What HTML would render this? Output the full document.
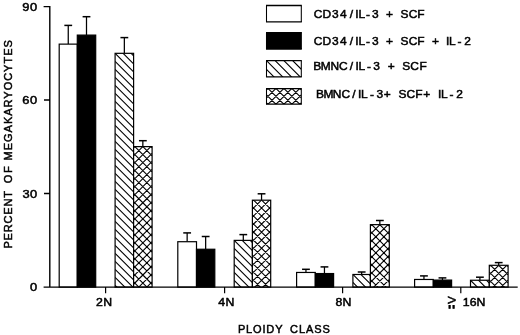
<!DOCTYPE html><html><head><meta charset="utf-8"><title>Ploidy class chart</title>
<style>html,body{margin:0;padding:0;background:#fff}svg{display:block}text{font-family:"Liberation Sans",sans-serif;font-size:11.6px;fill:#000;stroke:#000;stroke-width:.5px;white-space:pre}</style></head><body>
<svg width="520" height="335" viewBox="0 0 520 335">
<rect width="520" height="335" fill="#fff"/>
<path d="M68.25 44.13V25.4" stroke="#000" stroke-width="1.25" fill="none"/><path d="M64.35 25.4H72.15" stroke="#000" stroke-width="1.5" fill="none"/>
<path d="M86.5 35.1V16.7" stroke="#000" stroke-width="1.25" fill="none"/><path d="M82.60 16.7H90.40" stroke="#000" stroke-width="1.5" fill="none"/>
<path d="M124.35 53.32V37.6" stroke="#000" stroke-width="1.25" fill="none"/><path d="M120.45 37.6H128.25" stroke="#000" stroke-width="1.5" fill="none"/>
<path d="M142.85 146.61V140.7" stroke="#000" stroke-width="1.25" fill="none"/><path d="M138.95 140.7H146.75" stroke="#000" stroke-width="1.5" fill="none"/>
<path d="M187.15 241.71V232.9" stroke="#000" stroke-width="1.25" fill="none"/><path d="M183.25 232.9H191.05" stroke="#000" stroke-width="1.5" fill="none"/>
<path d="M205.65 249.25V236.5" stroke="#000" stroke-width="1.25" fill="none"/><path d="M201.75 236.5H209.55" stroke="#000" stroke-width="1.5" fill="none"/>
<path d="M243.3 240.38V234.6" stroke="#000" stroke-width="1.25" fill="none"/><path d="M239.40 234.6H247.20" stroke="#000" stroke-width="1.5" fill="none"/>
<path d="M261.55 200.19V193.8" stroke="#000" stroke-width="1.25" fill="none"/><path d="M257.65 193.8H265.45" stroke="#000" stroke-width="1.5" fill="none"/>
<path d="M305.95 272.46V269.3" stroke="#000" stroke-width="1.25" fill="none"/><path d="M302.05 269.3H309.85" stroke="#000" stroke-width="1.5" fill="none"/>
<path d="M324.45 273.55V266.9" stroke="#000" stroke-width="1.25" fill="none"/><path d="M320.55 266.9H328.35" stroke="#000" stroke-width="1.5" fill="none"/>
<path d="M361.65 274.48V272.0" stroke="#000" stroke-width="1.25" fill="none"/><path d="M357.75 272.0H365.55" stroke="#000" stroke-width="1.5" fill="none"/>
<path d="M379.85 224.64V220.5" stroke="#000" stroke-width="1.25" fill="none"/><path d="M375.95 220.5H383.75" stroke="#000" stroke-width="1.5" fill="none"/>
<path d="M423.95 279.47V275.9" stroke="#000" stroke-width="1.25" fill="none"/><path d="M420.05 275.9H427.85" stroke="#000" stroke-width="1.5" fill="none"/>
<path d="M442.45 280.09V277.9" stroke="#000" stroke-width="1.25" fill="none"/><path d="M438.55 277.9H446.35" stroke="#000" stroke-width="1.5" fill="none"/>
<path d="M479.9 280.25V277.2" stroke="#000" stroke-width="1.25" fill="none"/><path d="M476.00 277.2H483.80" stroke="#000" stroke-width="1.5" fill="none"/>
<path d="M498.7 265.3V262.6" stroke="#000" stroke-width="1.25" fill="none"/><path d="M494.80 262.6H502.60" stroke="#000" stroke-width="1.5" fill="none"/>
<rect x="59.20" y="44.13" width="18.10" height="242.97" fill="#fff"/>
<rect x="59.20" y="44.13" width="18.10" height="242.97" fill="none" stroke="#000" stroke-width="1.2"/>
<rect x="77.30" y="35.10" width="18.40" height="252.00" fill="#000"/>
<rect x="77.30" y="35.10" width="18.40" height="252.00" fill="none" stroke="#000" stroke-width="1.2"/>
<rect x="115.10" y="53.32" width="18.50" height="233.78" fill="#fff"/>
<clipPath id="c3"><rect x="115.10" y="53.32" width="18.50" height="233.78"/></clipPath>
<path d="M115.10 21.32L133.60 39.82M115.10 29.32L133.60 47.82M115.10 37.32L133.60 55.82M115.10 45.32L133.60 63.82M115.10 53.32L133.60 71.82M115.10 61.32L133.60 79.82M115.10 69.32L133.60 87.82M115.10 77.32L133.60 95.82M115.10 85.32L133.60 103.82M115.10 93.32L133.60 111.82M115.10 101.32L133.60 119.82M115.10 109.32L133.60 127.82M115.10 117.32L133.60 135.82M115.10 125.32L133.60 143.82M115.10 133.32L133.60 151.82M115.10 141.32L133.60 159.82M115.10 149.32L133.60 167.82M115.10 157.32L133.60 175.82M115.10 165.32L133.60 183.82M115.10 173.32L133.60 191.82M115.10 181.32L133.60 199.82M115.10 189.32L133.60 207.82M115.10 197.32L133.60 215.82M115.10 205.32L133.60 223.82M115.10 213.32L133.60 231.82M115.10 221.32L133.60 239.82M115.10 229.32L133.60 247.82M115.10 237.32L133.60 255.82M115.10 245.32L133.60 263.82M115.10 253.32L133.60 271.82M115.10 261.32L133.60 279.82M115.10 269.32L133.60 287.82M115.10 277.32L133.60 295.82M115.10 285.32L133.60 303.82M115.10 293.32L133.60 311.82M115.10 301.32L133.60 319.82" stroke="#000" stroke-width="1.1" fill="none" clip-path="url(#c3)"/>
<rect x="115.10" y="53.32" width="18.50" height="233.78" fill="none" stroke="#000" stroke-width="1.2"/>
<rect x="133.60" y="146.61" width="18.50" height="140.49" fill="#fff"/>
<clipPath id="c4"><rect x="133.60" y="146.61" width="18.50" height="140.49"/></clipPath>
<path d="M133.60 113.19L152.10 131.69M133.60 121.22L152.10 139.72M133.60 129.25L152.10 147.75M133.60 137.28L152.10 155.78M133.60 145.31L152.10 163.81M133.60 153.34L152.10 171.84M133.60 161.37L152.10 179.87M133.60 169.40L152.10 187.90M133.60 177.43L152.10 195.93M133.60 185.46L152.10 203.96M133.60 193.49L152.10 211.99M133.60 201.52L152.10 220.02M133.60 209.55L152.10 228.05M133.60 217.58L152.10 236.08M133.60 225.61L152.10 244.11M133.60 233.64L152.10 252.14M133.60 241.67L152.10 260.17M133.60 249.70L152.10 268.20M133.60 257.73L152.10 276.23M133.60 265.76L152.10 284.26M133.60 273.79L152.10 292.29M133.60 281.82L152.10 300.32M133.60 289.85L152.10 308.35M133.60 297.88L152.10 316.38M152.10 113.19L133.60 131.69M152.10 121.22L133.60 139.72M152.10 129.25L133.60 147.75M152.10 137.28L133.60 155.78M152.10 145.31L133.60 163.81M152.10 153.34L133.60 171.84M152.10 161.37L133.60 179.87M152.10 169.40L133.60 187.90M152.10 177.43L133.60 195.93M152.10 185.46L133.60 203.96M152.10 193.49L133.60 211.99M152.10 201.52L133.60 220.02M152.10 209.55L133.60 228.05M152.10 217.58L133.60 236.08M152.10 225.61L133.60 244.11M152.10 233.64L133.60 252.14M152.10 241.67L133.60 260.17M152.10 249.70L133.60 268.20M152.10 257.73L133.60 276.23M152.10 265.76L133.60 284.26M152.10 273.79L133.60 292.29M152.10 281.82L133.60 300.32M152.10 289.85L133.60 308.35M152.10 297.88L133.60 316.38" stroke="#000" stroke-width="1.1" fill="none" clip-path="url(#c4)"/>
<rect x="133.60" y="146.61" width="18.50" height="140.49" fill="none" stroke="#000" stroke-width="1.2"/>
<rect x="177.80" y="241.71" width="18.70" height="45.39" fill="#fff"/>
<rect x="177.80" y="241.71" width="18.70" height="45.39" fill="none" stroke="#000" stroke-width="1.2"/>
<rect x="196.50" y="249.25" width="18.30" height="37.85" fill="#000"/>
<rect x="196.50" y="249.25" width="18.30" height="37.85" fill="none" stroke="#000" stroke-width="1.2"/>
<rect x="234.20" y="240.38" width="18.20" height="46.72" fill="#fff"/>
<clipPath id="c7"><rect x="234.20" y="240.38" width="18.20" height="46.72"/></clipPath>
<path d="M234.20 208.38L252.40 226.58M234.20 216.38L252.40 234.58M234.20 224.38L252.40 242.58M234.20 232.38L252.40 250.58M234.20 240.38L252.40 258.58M234.20 248.38L252.40 266.58M234.20 256.38L252.40 274.58M234.20 264.38L252.40 282.58M234.20 272.38L252.40 290.58M234.20 280.38L252.40 298.58M234.20 288.38L252.40 306.58M234.20 296.38L252.40 314.58" stroke="#000" stroke-width="1.1" fill="none" clip-path="url(#c7)"/>
<rect x="234.20" y="240.38" width="18.20" height="46.72" fill="none" stroke="#000" stroke-width="1.2"/>
<rect x="252.40" y="200.19" width="18.30" height="86.91" fill="#fff"/>
<clipPath id="c8"><rect x="252.40" y="200.19" width="18.30" height="86.91"/></clipPath>
<path d="M252.40 166.77L270.70 185.07M252.40 174.80L270.70 193.10M252.40 182.83L270.70 201.13M252.40 190.86L270.70 209.16M252.40 198.89L270.70 217.19M252.40 206.92L270.70 225.22M252.40 214.95L270.70 233.25M252.40 222.98L270.70 241.28M252.40 231.01L270.70 249.31M252.40 239.04L270.70 257.34M252.40 247.07L270.70 265.37M252.40 255.10L270.70 273.40M252.40 263.13L270.70 281.43M252.40 271.16L270.70 289.46M252.40 279.19L270.70 297.49M252.40 287.22L270.70 305.52M252.40 295.25L270.70 313.55M270.70 166.77L252.40 185.07M270.70 174.80L252.40 193.10M270.70 182.83L252.40 201.13M270.70 190.86L252.40 209.16M270.70 198.89L252.40 217.19M270.70 206.92L252.40 225.22M270.70 214.95L252.40 233.25M270.70 222.98L252.40 241.28M270.70 231.01L252.40 249.31M270.70 239.04L252.40 257.34M270.70 247.07L252.40 265.37M270.70 255.10L252.40 273.40M270.70 263.13L252.40 281.43M270.70 271.16L252.40 289.46M270.70 279.19L252.40 297.49M270.70 287.22L252.40 305.52M270.70 295.25L252.40 313.55" stroke="#000" stroke-width="1.1" fill="none" clip-path="url(#c8)"/>
<rect x="252.40" y="200.19" width="18.30" height="86.91" fill="none" stroke="#000" stroke-width="1.2"/>
<rect x="296.60" y="272.46" width="18.70" height="14.64" fill="#fff"/>
<rect x="296.60" y="272.46" width="18.70" height="14.64" fill="none" stroke="#000" stroke-width="1.2"/>
<rect x="315.30" y="273.55" width="18.30" height="13.55" fill="#000"/>
<rect x="315.30" y="273.55" width="18.30" height="13.55" fill="none" stroke="#000" stroke-width="1.2"/>
<rect x="352.90" y="274.48" width="17.50" height="12.62" fill="#fff"/>
<clipPath id="c11"><rect x="352.90" y="274.48" width="17.50" height="12.62"/></clipPath>
<path d="M352.90 242.48L370.40 259.98M352.90 250.48L370.40 267.98M352.90 258.48L370.40 275.98M352.90 266.48L370.40 283.98M352.90 274.48L370.40 291.98M352.90 282.48L370.40 299.98M352.90 290.48L370.40 307.98M352.90 298.48L370.40 315.98" stroke="#000" stroke-width="1.1" fill="none" clip-path="url(#c11)"/>
<rect x="352.90" y="274.48" width="17.50" height="12.62" fill="none" stroke="#000" stroke-width="1.2"/>
<rect x="370.40" y="224.64" width="18.90" height="62.46" fill="#fff"/>
<clipPath id="c12"><rect x="370.40" y="224.64" width="18.90" height="62.46"/></clipPath>
<path d="M370.40 191.22L389.30 210.12M370.40 199.25L389.30 218.15M370.40 207.28L389.30 226.18M370.40 215.31L389.30 234.21M370.40 223.34L389.30 242.24M370.40 231.37L389.30 250.27M370.40 239.40L389.30 258.30M370.40 247.43L389.30 266.33M370.40 255.46L389.30 274.36M370.40 263.49L389.30 282.39M370.40 271.52L389.30 290.42M370.40 279.55L389.30 298.45M370.40 287.58L389.30 306.48M370.40 295.61L389.30 314.51M389.30 191.22L370.40 210.12M389.30 199.25L370.40 218.15M389.30 207.28L370.40 226.18M389.30 215.31L370.40 234.21M389.30 223.34L370.40 242.24M389.30 231.37L370.40 250.27M389.30 239.40L370.40 258.30M389.30 247.43L370.40 266.33M389.30 255.46L370.40 274.36M389.30 263.49L370.40 282.39M389.30 271.52L370.40 290.42M389.30 279.55L370.40 298.45M389.30 287.58L370.40 306.48M389.30 295.61L370.40 314.51" stroke="#000" stroke-width="1.1" fill="none" clip-path="url(#c12)"/>
<rect x="370.40" y="224.64" width="18.90" height="62.46" fill="none" stroke="#000" stroke-width="1.2"/>
<rect x="414.60" y="279.47" width="18.70" height="7.63" fill="#fff"/>
<rect x="414.60" y="279.47" width="18.70" height="7.63" fill="none" stroke="#000" stroke-width="1.2"/>
<rect x="433.30" y="280.09" width="18.30" height="7.01" fill="#000"/>
<rect x="433.30" y="280.09" width="18.30" height="7.01" fill="none" stroke="#000" stroke-width="1.2"/>
<rect x="470.50" y="280.25" width="18.80" height="6.85" fill="#fff"/>
<clipPath id="c15"><rect x="470.50" y="280.25" width="18.80" height="6.85"/></clipPath>
<path d="M470.50 248.25L489.30 267.05M470.50 256.25L489.30 275.05M470.50 264.25L489.30 283.05M470.50 272.25L489.30 291.05M470.50 280.25L489.30 299.05M470.50 288.25L489.30 307.05M470.50 296.25L489.30 315.05" stroke="#000" stroke-width="1.1" fill="none" clip-path="url(#c15)"/>
<rect x="470.50" y="280.25" width="18.80" height="6.85" fill="none" stroke="#000" stroke-width="1.2"/>
<rect x="489.30" y="265.30" width="18.80" height="21.81" fill="#fff"/>
<clipPath id="c16"><rect x="489.30" y="265.30" width="18.80" height="21.81"/></clipPath>
<path d="M489.30 231.88L508.10 250.67M489.30 239.91L508.10 258.70M489.30 247.94L508.10 266.73M489.30 255.97L508.10 274.76M489.30 264.00L508.10 282.79M489.30 272.02L508.10 290.82M489.30 280.06L508.10 298.85M489.30 288.08L508.10 306.88M489.30 296.12L508.10 314.91M508.10 231.88L489.30 250.67M508.10 239.91L489.30 258.70M508.10 247.94L489.30 266.73M508.10 255.97L489.30 274.76M508.10 264.00L489.30 282.79M508.10 272.02L489.30 290.82M508.10 280.06L489.30 298.85M508.10 288.08L489.30 306.88M508.10 296.12L489.30 314.91" stroke="#000" stroke-width="1.1" fill="none" clip-path="url(#c16)"/>
<rect x="489.30" y="265.30" width="18.80" height="21.81" fill="none" stroke="#000" stroke-width="1.2"/>
<path d="M43.6 6.6H49.8V287.1M43.6 287.1H517.7M44 100.05H49.8M44 193.5H49.8" stroke="#000" stroke-width="1.4" fill="none"/>
<path d="M105.6 287.1V293.3M224.6 287.1V293.3M342.6 287.1V293.3M460.8 287.1V293.3" stroke="#000" stroke-width="1.2" fill="none"/>
<text transform="translate(22.90,11.00) scale(1.14,1)" x="-0.53" y="0" style="letter-spacing:0.420px;font-size:11.3px">90</text>
<text transform="translate(22.90,104.30) scale(1.14,1)" x="-0.57" y="0" style="letter-spacing:0.464px;font-size:11.3px">60</text>
<text transform="translate(22.90,197.80) scale(1.14,1)" x="-0.43" y="0" style="letter-spacing:0.320px;font-size:11.3px">30</text>
<text transform="translate(30.50,291.40) scale(1.14,1)" x="-0.44" y="0" style="letter-spacing:0.000px;font-size:11.3px">0</text>
<text transform="translate(96.50,306.00) scale(1.06,1)" x="-0.58" y="0" style="letter-spacing:0.569px">2N</text>
<text transform="translate(218.60,306.00) scale(1.06,1)" x="-0.27" y="0" style="letter-spacing:0.346px">4N</text>
<text transform="translate(335.90,306.00) scale(1.06,1)" x="-0.50" y="0" style="letter-spacing:0.301px">8N</text>
<text transform="translate(463.70,306.20) scale(1.06,1)" x="-0.88" y="0" style="letter-spacing:0.039px">16N</text>
<text transform="translate(448.10,304.50) scale(1.12,1)" x="-0.68" y="0" style="letter-spacing:0.000px;font-size:13.8px">&gt;</text>
<text transform="translate(456.75,308.8) rotate(-90) scale(.42,1)" x="0" y="0" style="font-size:15.2px;stroke-width:1.2px">=</text>
<text transform="translate(238.80,333.20) scale(0.95,1)" x="-0.95" y="0" style="letter-spacing:0.889px">PLOIDY</text>
<text transform="translate(290.60,333.20) scale(0.95,1)" x="-0.59" y="0" style="letter-spacing:0.955px">CLASS</text>
<text transform="translate(12.30,247.70) rotate(-90) scale(0.95,1)" x="-0.95" y="0" style="letter-spacing:0.860px">PERCENT</text>
<text transform="translate(12.30,182.80) rotate(-90) scale(0.95,1)" x="-0.55" y="0" style="letter-spacing:1.853px">OF</text>
<text transform="translate(12.30,159.60) rotate(-90) scale(0.95,1)" x="-0.95" y="0" style="letter-spacing:1.047px">MEGAKARYOCYTES</text>
<rect x="266.50" y="5.50" width="34.80" height="16.40" fill="#fff"/>
<path d="M266.00 5.50H301.80M266.00 21.90H301.80" stroke="#000" stroke-width="1.3" fill="none"/>
<path d="M266.50 5.50V21.90M301.30 5.50V21.90" stroke="#000" stroke-width="1.05" fill="none"/>
<rect x="266.50" y="32.60" width="34.80" height="16.40" fill="#000"/>
<path d="M266.00 32.60H301.80M266.00 49.00H301.80" stroke="#000" stroke-width="1.3" fill="none"/>
<path d="M266.50 32.60V49.00M301.30 32.60V49.00" stroke="#000" stroke-width="1.05" fill="none"/>
<rect x="266.50" y="60.70" width="34.80" height="16.20" fill="#fff"/>
<clipPath id="c19"><rect x="266.50" y="60.70" width="34.80" height="16.20"/></clipPath>
<path d="M266.50 16.95L301.30 51.75M266.50 25.70L301.30 60.50M266.50 34.45L301.30 69.25M266.50 43.20L301.30 78.00M266.50 51.95L301.30 86.75M266.50 60.70L301.30 95.50M266.50 69.45L301.30 104.25M266.50 78.20L301.30 113.00M266.50 86.95L301.30 121.75" stroke="#000" stroke-width="1.1" fill="none" clip-path="url(#c19)"/>
<path d="M266.00 60.70H301.80M266.00 76.90H301.80" stroke="#000" stroke-width="1.3" fill="none"/>
<path d="M266.50 60.70V76.90M301.30 60.70V76.90" stroke="#000" stroke-width="1.05" fill="none"/>
<rect x="266.50" y="88.70" width="34.80" height="15.50" fill="#fff"/>
<clipPath id="c20"><rect x="266.50" y="88.70" width="34.80" height="15.50"/></clipPath>
<path d="M266.50 39.20L301.30 74.00M266.50 47.15L301.30 81.95M266.50 55.10L301.30 89.90M266.50 63.05L301.30 97.85M266.50 71.00L301.30 105.80M266.50 78.95L301.30 113.75M266.50 86.90L301.30 121.70M266.50 94.85L301.30 129.65M266.50 102.80L301.30 137.60M266.50 110.75L301.30 145.55M301.30 39.20L266.50 74.00M301.30 47.15L266.50 81.95M301.30 55.10L266.50 89.90M301.30 63.05L266.50 97.85M301.30 71.00L266.50 105.80M301.30 78.95L266.50 113.75M301.30 86.90L266.50 121.70M301.30 94.85L266.50 129.65M301.30 102.80L266.50 137.60M301.30 110.75L266.50 145.55" stroke="#000" stroke-width="1.1" fill="none" clip-path="url(#c20)"/>
<path d="M266.00 88.70H301.80M266.00 104.20H301.80" stroke="#000" stroke-width="1.3" fill="none"/>
<path d="M266.50 88.70V104.20M301.30 88.70V104.20" stroke="#000" stroke-width="1.05" fill="none"/>
<text transform="scale(1.03,1)" x="304.67 313.19 322.44 330.06 339.46 344.99 348.14 355.45 361.23 367.68 374.72 381.50 388.80 396.85 405.15" y="18">CD34/IL-3 + SCF</text>
<text transform="scale(1.03,1)" x="304.67 313.19 322.44 330.06 339.46 344.99 348.14 355.45 361.23 367.68 374.72 381.50 388.80 396.85 405.15 412.23 419.38 426.16 433.05 435.91 444.28 450.80" y="45.1">CD34/IL-3 + SCF + IL-2</text>
<text transform="scale(1.03,1)" x="304.02 311.38 320.91 329.09 339.65 345.09 348.04 356.37 362.34 368.79 376.37 383.15 390.60 398.41 407.18" y="70.2">BMNC/IL-3 + SCF</text>
<text transform="scale(1.03,1)" x="306.79 314.05 323.19 331.66 341.93 347.51 350.42 359.23 365.59 372.59 379.36 386.86 394.67 403.16 410.98 417.76 425.28 428.14 436.52 443.04" y="98">BMNC/IL-3+ SCF+ IL-2</text>
</svg></body></html>
